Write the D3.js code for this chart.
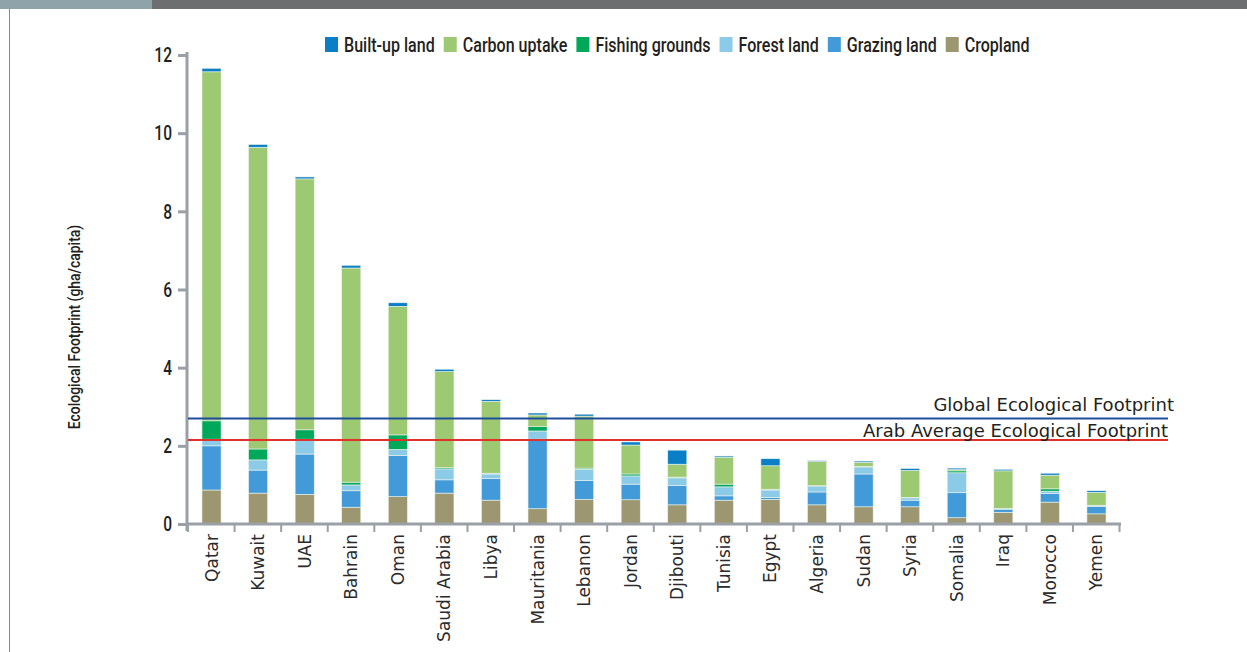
<!DOCTYPE html>
<html><head><meta charset="utf-8">
<script src="https://cdn.jsdelivr.net/npm/d3@7"></script>
<style>
body{margin:0;background:#fff;}
svg{display:block;}
.cond{font-family:"Roboto","DejaVu Sans",sans-serif;}
.geo{font-family:"DejaVu Sans","Noto Sans",sans-serif;}
</style></head>
<body>
<svg id="chart" width="1247" height="652"></svg>
<script>
const countries = ["Qatar","Kuwait","UAE","Bahrain","Oman","Saudi Arabia","Libya","Mauritania","Lebanon","Jordan","Djibouti","Tunisia","Egypt","Algeria","Sudan","Syria","Somalia","Iraq","Morocco","Yemen"];
const cropland = [0.87,0.79,0.76,0.43,0.70,0.79,0.61,0.39,0.63,0.62,0.49,0.61,0.63,0.49,0.44,0.44,0.16,0.30,0.56,0.26];
const grazing  = [1.13,0.59,1.03,0.42,1.05,0.34,0.55,1.78,0.48,0.40,0.49,0.11,0.05,0.33,0.84,0.17,0.64,0.08,0.22,0.19];
const forest   = [0.17,0.26,0.38,0.15,0.16,0.28,0.12,0.21,0.29,0.21,0.20,0.23,0.19,0.15,0.18,0.06,0.51,0.02,0.06,0.03];
const fishing  = [0.47,0.28,0.24,0.07,0.37,0.03,0.02,0.11,0.03,0.05,0.02,0.07,0.02,0.01,0.01,0.01,0.05,0.00,0.06,0.00];
const carbon   = [8.93,7.72,6.42,5.48,3.29,2.46,1.84,0.30,1.33,0.74,0.33,0.69,0.60,0.62,0.11,0.69,0.03,0.96,0.35,0.33];
const builtup  = [0.09,0.07,0.05,0.07,0.09,0.06,0.04,0.05,0.05,0.08,0.36,0.03,0.18,0.02,0.03,0.05,0.04,0.04,0.05,0.04];
const yTicks = [0,2,4,6,8,10,12];
const globalFootprint = 2.7;
const arabAverage = 2.15;
const globalLabel = "Global Ecological Footprint";
const arabLabel = "Arab Average Ecological Footprint";
const yTitle = "Ecological Footprint (gha/capita)";

const seriesKeys = ["cropland","grazing","forest","fishing","carbon","builtup"];
const seriesNames = {builtup:"Built-up land",carbon:"Carbon uptake",fishing:"Fishing grounds",forest:"Forest land",grazing:"Grazing land",cropland:"Cropland"};
const colors = {builtup:"#0a7fc6",carbon:"#9dc972",fishing:"#00a85a",forest:"#8ccbe7",grazing:"#429bd8",cropland:"#9c9671"};
const legendOrder = ["builtup","carbon","fishing","forest","grazing","cropland"];

const table = countries.map((c,i)=>({country:c,cropland:cropland[i],grazing:grazing[i],forest:forest[i],fishing:fishing[i],carbon:carbon[i],builtup:builtup[i]}));

const svg = d3.select("#chart");
const SX = 0.74;   // horizontal condensing for axis labels
const LSX = 0.765; // horizontal condensing for legend
// top banner & frame
svg.append("rect").attr("x",0).attr("y",0).attr("width",152).attr("height",9).attr("fill","#8fa3ab");
svg.append("rect").attr("x",152).attr("y",0).attr("width",1095).attr("height",9).attr("fill","#6d6e70");
svg.append("line").attr("x1",9.5).attr("x2",9.5).attr("y1",9).attr("y2",652).attr("stroke","#8a8a8a").attr("stroke-width",1);

const x = d3.scaleBand().domain(countries).range([188,1120]).paddingInner(0.59).paddingOuter(0.3);
const y = d3.scaleLinear().domain([0,12]).range([524,55]);

const stack = d3.stack().keys(seriesKeys)(table);

const gBars = svg.append("g");
stack.forEach(layer=>{
  gBars.append("g").attr("fill",colors[layer.key])
    .selectAll("rect").data(layer).join("rect")
    .attr("x",d=>x(d.data.country))
    .attr("width",x.bandwidth())
    .attr("y",d=>y(d[1]))
    .attr("height",d=>Math.max(0,y(d[0])-y(d[1])))
    .attr("stroke","#eef3ea").attr("stroke-width",0.6);
});

// Y axis
const yAxis = svg.append("g").attr("transform","translate(187,0)")
  .call(d3.axisLeft(y).tickValues(yTicks).tickSize(9).tickPadding(6).tickFormat(d3.format("d")));
yAxis.select(".domain").attr("stroke","#9aa0a6").attr("stroke-width",3).attr("d","M0,52V531");
yAxis.selectAll(".tick line").attr("stroke","#9aa0a6").attr("stroke-width",3);
yAxis.selectAll(".tick text").attr("class","cond").attr("font-size",21).attr("font-weight",500).attr("fill","#231f20")
  .attr("x",-15/SX).attr("transform",`scale(${SX},1)`);

// X axis
const xAxis = svg.append("g").attr("transform","translate(0,524)");
xAxis.append("line").attr("x1",186).attr("x2",1121).attr("y1",0).attr("y2",0).attr("stroke","#9aa0a6").attr("stroke-width",3);
const step = x.step();
const bounds = d3.range(countries.length+1).map(i=>188+i*step);
xAxis.selectAll(".xt").data(bounds).join("line").attr("class","xt")
  .attr("x1",d=>d).attr("x2",d=>d).attr("y1",0).attr("y2",8)
  .attr("stroke","#9aa0a6").attr("stroke-width",2);
xAxis.selectAll(".xl").data(countries).join("text").attr("class","xl geo")
  .attr("transform",d=>`translate(${x(d)+x.bandwidth()/2+6},10) rotate(-90)`)
  .attr("text-anchor","end").attr("font-size",17).attr("fill","#2b2b2b").text(d=>d);

// Reference lines
svg.append("line").attr("x1",188).attr("x2",1168).attr("y1",y(globalFootprint)).attr("y2",y(globalFootprint))
  .attr("stroke","#1f4e9b").attr("stroke-width",2);
svg.append("line").attr("x1",188).attr("x2",1168).attr("y1",y(arabAverage)).attr("y2",y(arabAverage))
  .attr("stroke","#e2302a").attr("stroke-width",2);
svg.append("text").attr("class","geo").attr("x",1174).attr("y",y(globalFootprint)-7).attr("text-anchor","end")
  .attr("font-size",18).attr("fill","#231f20").text(globalLabel);
svg.append("text").attr("class","geo").attr("x",1168).attr("y",y(arabAverage)-3).attr("text-anchor","end")
  .attr("font-size",18).attr("fill","#231f20").text(arabLabel);

// Y title
svg.append("text").attr("class","cond").attr("transform",`translate(80,327) rotate(-90) scale(0.82,1)`)
  .attr("text-anchor","middle").attr("font-size",17).attr("font-weight",500).attr("fill","#231f20").text(yTitle);

// Legend
const lg = svg.append("g").attr("transform","translate(325,37)");
let lx = 0;
legendOrder.forEach(k=>{
  lg.append("rect").attr("x",lx).attr("y",0).attr("width",13).attr("height",15).attr("fill",colors[k]);
  const t = lg.append("text").attr("class","cond").attr("x",(lx+19)/LSX).attr("y",15)
    .attr("transform",`scale(${LSX},1)`)
    .attr("font-size",21).attr("font-weight",500).attr("fill","#231f20").text(seriesNames[k]);
  lx += 19 + t.node().getComputedTextLength()*LSX + 9;
});
</script>
</body></html>
